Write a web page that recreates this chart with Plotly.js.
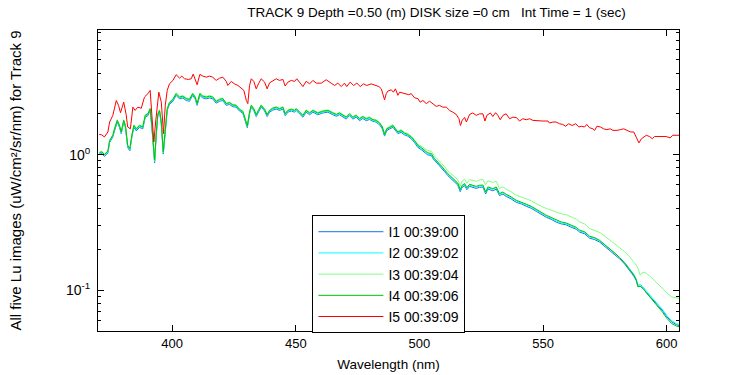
<!DOCTYPE html>
<html>
<head>
<meta charset="utf-8">
<script src="https://cdn.plot.ly/plotly-3.0.1.min.js"></script>
<style>html,body{margin:0;padding:0;background:#fff;}#chart{width:750px;height:375px;}</style>
</head>
<body>
<div id="chart"></div>
<script>
// Wavelength grid (nm) for I1..I4
const wlG = [370.5,371.5,372.6,374.0,374.7,376.0,376.7,377.8,378.7,379.4,
380.4,381.1,382.0,382.9,383.7,384.5,385.5,386.8,388.1,389.1,
390.2,391.1,391.8,392.9,393.5,394.2,394.9,395.6,396.4,397.2,
398.0,398.9,400.3,401.6,403.0,404.3,405.7,407.0,408.3,409.3,
410.1,411.2,412.4,413.8,415.1,416.4,417.8,419.2,420.5,421.9,
423.2,424.5,425.9,427.2,428.6,429.5,430.4,431.3,432.0,433.0,
434.0,434.9,436.0,437.4,438.4,439.4,440.7,442.1,443.4,444.8,
445.7,446.8,448.2,449.5,450.2,451.5,452.9,454.2,455.6,456.9,
458.9,460.9,463.0,465.0,466.4,467.7,469.0,470.4,471.7,473.1,
474.4,475.8,477.1,478.5,479.8,481.2,482.5,483.9,485.0,485.9,
486.8,487.9,489.3,490.3,491.3,492.6,494.0,495.3,496.7,498.0,
499.4,500.7,502.1,503.4,504.8,506.1,507.5,508.8,510.2,511.5,
512.9,514.2,515.5,516.5,517.3,518.3,519.2,520.3,521.6,523.0,
524.3,525.7,526.8,527.7,529.7,531.1,532.4,533.8,535.1,537.1,
539.2,541.2,543.2,545.2,547.3,549.3,551.3,553.3,555.4,557.4,
559.4,561.4,563.5,564.8,566.9,568.8,570.9,572.9,574.9,576.9,
579.0,581.0,583.0,585.0,586.7,587.7,588.4,589.3,590.4,591.8,
593.4,595.1,596.9,598.5,600.1,601.9,603.9,605.0];

const I1 = [1.00,1.02,0.97,1.03,1.23,1.35,1.50,1.74,1.59,1.43,
1.74,1.59,1.13,1.07,1.35,1.59,1.50,1.59,1.55,1.89,
1.94,2.12,1.59,0.87,1.35,1.94,2.06,1.69,1.01,1.59,
2.12,2.35,2.48,2.74,2.58,2.62,2.51,2.48,2.74,2.58,
2.31,2.74,2.62,2.58,2.62,2.58,2.40,2.48,2.51,2.31,
2.35,2.26,2.24,2.10,2.02,1.78,1.58,2.00,2.24,2.12,
1.91,2.06,2.24,2.10,1.91,2.06,2.13,2.17,2.12,2.17,
1.94,2.06,2.10,2.06,2.12,2.00,1.89,2.06,1.97,2.06,
1.97,2.03,2.06,1.97,1.92,1.97,1.89,1.83,1.94,1.83,
1.89,1.78,1.85,1.78,1.82,1.76,1.74,1.66,1.55,1.37,
1.50,1.55,1.59,1.50,1.43,1.46,1.40,1.37,1.31,1.23,
1.13,1.09,1.04,0.995,0.985,0.903,0.852,0.806,0.748,0.700,
0.661,0.633,0.597,0.533,0.574,0.590,0.551,0.583,0.574,0.563,
0.574,0.576,0.512,0.557,0.541,0.557,0.498,0.512,0.491,0.471,
0.444,0.433,0.416,0.402,0.381,0.360,0.345,0.333,0.317,0.308,
0.303,0.291,0.281,0.268,0.260,0.242,0.236,0.226,0.211,0.197,
0.183,0.170,0.156,0.140,0.127,0.118,0.106,0.107,0.103,0.0960,
0.0892,0.0818,0.0762,0.0700,0.0636,0.0585,0.0556,0.0548];

const I2 = [1.02,1.04,0.99,1.05,1.25,1.37,1.53,1.77,1.62,1.45,
1.77,1.62,1.15,1.09,1.37,1.62,1.53,1.62,1.58,1.92,
1.97,2.15,1.62,0.89,1.37,1.97,2.09,1.72,1.03,1.62,
2.15,2.39,2.52,2.78,2.62,2.66,2.55,2.52,2.78,2.62,
2.35,2.78,2.66,2.62,2.66,2.62,2.44,2.52,2.55,2.35,
2.39,2.30,2.28,2.13,2.05,1.81,1.61,2.03,2.28,2.15,
1.94,2.09,2.28,2.13,1.94,2.09,2.17,2.21,2.15,2.21,
1.97,2.09,2.13,2.09,2.15,2.03,1.92,2.09,2.00,2.09,
2.00,2.06,2.09,2.00,1.95,2.00,1.92,1.86,1.97,1.86,
1.92,1.81,1.88,1.81,1.85,1.78,1.76,1.68,1.58,1.39,
1.53,1.58,1.62,1.53,1.45,1.49,1.42,1.39,1.33,1.25,
1.15,1.11,1.06,1.01,1.00,0.919,0.868,0.822,0.762,0.713,
0.674,0.645,0.609,0.544,0.585,0.602,0.562,0.595,0.585,0.574,
0.585,0.587,0.522,0.568,0.553,0.568,0.508,0.522,0.501,0.481,
0.453,0.441,0.425,0.410,0.388,0.366,0.352,0.339,0.323,0.313,
0.308,0.297,0.286,0.273,0.265,0.247,0.241,0.231,0.216,0.202,
0.188,0.174,0.160,0.143,0.131,0.121,0.109,0.110,0.106,0.0985,
0.0913,0.0835,0.0775,0.0712,0.0648,0.0596,0.0566,0.0558];

const I3 = [1.04,1.06,1.01,1.07,1.28,1.40,1.57,1.81,1.66,1.48,
1.81,1.66,1.18,1.12,1.40,1.66,1.57,1.66,1.62,1.97,
2.02,2.20,1.66,0.92,1.40,2.02,2.14,1.76,1.06,1.66,
2.20,2.44,2.59,2.85,2.69,2.73,2.62,2.59,2.85,2.69,
2.40,2.85,2.73,2.69,2.73,2.69,2.49,2.59,2.62,2.40,
2.44,2.35,2.33,2.18,2.10,1.86,1.65,2.08,2.33,2.20,
1.99,2.14,2.33,2.18,1.99,2.14,2.22,2.26,2.20,2.26,
2.02,2.14,2.18,2.14,2.20,2.08,1.97,2.14,2.05,2.14,
2.05,2.11,2.14,2.05,2.00,2.05,1.97,1.91,2.02,1.91,
1.97,1.86,1.93,1.86,1.90,1.83,1.81,1.73,1.62,1.43,
1.57,1.62,1.66,1.57,1.48,1.53,1.46,1.43,1.37,1.29,
1.19,1.16,1.11,1.07,1.06,0.970,0.921,0.873,0.813,0.760,
0.722,0.694,0.655,0.585,0.639,0.660,0.617,0.655,0.647,0.635,
0.651,0.656,0.600,0.640,0.623,0.635,0.562,0.578,0.555,0.532,
0.501,0.488,0.472,0.456,0.433,0.415,0.401,0.389,0.374,0.366,
0.360,0.346,0.334,0.319,0.307,0.285,0.277,0.266,0.251,0.235,
0.220,0.207,0.192,0.176,0.162,0.153,0.145,0.129,0.136,0.133,
0.126,0.117,0.110,0.102,0.0955,0.0891,0.0875,0.0869];

const I4 = [1.03,1.05,1.00,1.06,1.27,1.39,1.55,1.79,1.64,1.47,
1.79,1.64,1.17,1.11,1.39,1.64,1.55,1.64,1.60,1.95,
2.00,2.18,1.64,0.91,1.39,2.00,2.12,1.74,1.05,1.64,
2.18,2.42,2.56,2.82,2.66,2.70,2.59,2.56,2.82,2.66,
2.38,2.82,2.70,2.66,2.70,2.66,2.47,2.56,2.59,2.38,
2.42,2.33,2.31,2.16,2.08,1.84,1.63,2.06,2.31,2.18,
1.97,2.12,2.31,2.16,1.97,2.12,2.20,2.24,2.18,2.24,
2.00,2.12,2.16,2.12,2.18,2.06,1.95,2.12,2.03,2.12,
2.03,2.09,2.12,2.03,1.98,2.03,1.95,1.89,2.00,1.89,
1.95,1.84,1.91,1.84,1.88,1.81,1.79,1.71,1.60,1.41,
1.55,1.60,1.64,1.55,1.47,1.51,1.44,1.41,1.35,1.27,
1.17,1.13,1.08,1.03,1.02,0.933,0.881,0.834,0.774,0.724,
0.684,0.655,0.618,0.552,0.594,0.611,0.571,0.604,0.594,0.583,
0.594,0.596,0.530,0.577,0.561,0.577,0.516,0.530,0.509,0.488,
0.460,0.448,0.431,0.416,0.394,0.372,0.357,0.344,0.328,0.318,
0.313,0.301,0.290,0.277,0.269,0.250,0.244,0.233,0.218,0.203,
0.188,0.174,0.159,0.142,0.129,0.119,0.106,0.107,0.103,0.0955,
0.0883,0.0805,0.0745,0.0681,0.0618,0.0569,0.0543,0.0537];

// Wavelength grid (nm) and values for I5
const wlR = [370.5,371.5,372.6,374.0,374.7,376.0,377.4,378.3,379.1,380.4,
381.4,382.0,383.1,384.1,385.0,386.1,387.5,388.8,390.2,391.1,
391.8,392.6,393.3,394.0,394.6,395.6,396.5,397.2,398.0,398.9,
400.3,401.6,403.0,403.9,405.0,406.6,407.7,408.5,409.3,410.1,
411.2,412.4,413.8,415.1,416.4,417.8,419.2,420.5,421.9,422.5,
423.9,425.2,426.6,427.9,429.0,430.0,430.6,431.3,432.0,433.0,
434.0,434.9,436.0,437.4,438.4,439.4,440.7,442.1,443.4,444.8,
445.7,446.8,448.2,449.5,450.4,451.5,452.9,454.2,455.6,456.9,
458.3,460.3,462.3,464.3,465.7,467.0,468.4,469.7,470.6,472.0,
473.4,474.7,476.1,477.4,478.7,480.5,482.3,483.6,484.6,485.2,
485.9,486.6,487.2,488.6,489.5,490.3,491.3,492.0,493.3,494.7,
495.7,496.7,498.0,499.4,500.3,501.4,502.8,504.1,505.4,506.8,
508.1,509.5,510.9,512.2,513.5,514.9,516.0,516.6,517.3,518.3,
519.0,520.3,521.6,523.0,524.3,525.7,526.5,527.3,528.7,529.7,
530.8,531.7,532.7,533.8,535.1,536.5,537.8,539.2,540.5,541.8,
543.2,544.6,545.9,547.9,549.9,552.0,552.6,554.0,555.3,556.7,
558.0,559.1,560.4,561.8,563.2,564.5,565.5,566.8,567.7,568.8,
570.2,570.9,571.8,573.2,574.5,575.8,577.2,578.3,579.9,581.3,
582.6,584.0,585.4,586.7,587.5,588.3,588.8,589.8,590.7,591.8,
593.1,594.2,595.1,597.1,599.8,601.4,602.5,605.0];

const I5 = [1.41,1.40,1.35,1.47,1.74,1.95,2.51,2.31,2.04,2.44,
1.97,1.60,1.55,2.24,2.12,2.24,2.20,2.66,2.82,2.98,
1.95,1.24,1.74,2.31,2.89,2.44,1.43,2.31,2.98,3.33,
3.53,3.89,3.67,3.80,3.63,3.59,3.63,3.93,3.63,3.28,
3.91,3.80,3.73,3.80,3.73,3.53,3.67,3.73,3.47,3.24,
3.47,3.33,3.24,3.09,2.98,2.51,2.38,3.24,3.63,3.47,
3.06,3.33,3.63,3.43,3.06,3.39,3.53,3.63,3.53,3.59,
3.21,3.43,3.53,3.47,3.63,3.43,3.18,3.48,3.33,3.53,
3.37,3.37,3.57,3.37,3.24,3.37,3.18,3.37,3.18,3.43,
3.24,3.37,3.18,3.33,3.24,3.33,3.24,3.18,3.06,2.82,
2.54,2.82,2.94,3.01,2.89,3.06,2.74,2.89,2.84,2.82,
2.77,2.82,2.63,2.59,2.44,2.51,2.38,2.48,2.38,2.27,
2.31,2.24,2.24,2.12,2.06,1.98,1.84,1.64,1.79,1.88,
1.74,1.98,2.03,1.95,2.00,2.00,1.77,1.95,2.03,1.91,
2.04,1.95,1.81,1.95,2.00,1.84,1.89,1.88,1.77,1.84,
1.81,1.84,1.79,1.77,1.77,1.77,1.71,1.74,1.74,1.69,
1.67,1.62,1.69,1.64,1.69,1.60,1.62,1.60,1.67,1.58,
1.55,1.51,1.62,1.60,1.55,1.53,1.55,1.51,1.51,1.53,
1.55,1.51,1.47,1.47,1.36,1.27,1.22,1.31,1.35,1.39,
1.36,1.31,1.36,1.36,1.36,1.33,1.39,1.39];

const seriesNames = ['I1 00:39:00','I2 00:39:02','I3 00:39:04','I4 00:39:06','I5 00:39:09'];
const seriesColors = ['#1a73e0','#00ffff','#80ff80','#00c000','#ff0000'];
const xTicks = [400,450,500,550,600];
const yTickVals = [0.1,1];
const yTickText = ['10<sup>-1</sup>','10<sup>0</sup>'];
const yMinorVals = [0.05,0.06,0.07,0.08,0.09,0.2,0.3,0.4,0.5,0.6,0.7,0.8,0.9,2,3,4,5,6,7,8];

const ys = [I1,I2,I3,I4,I5];
const xs = [wlG,wlG,wlG,wlG,wlR];
const traces = ys.map((y,i)=>({
  x: xs[i], y: y, type:'scatter', mode:'lines', name: seriesNames[i],
  line:{color: seriesColors[i], width:1}
}));

const fam = '"Liberation Sans", Arial, sans-serif';
const layout = {
  width:750, height:375,
  margin:{l:98, r:71, t:30, b:44},
  paper_bgcolor:'#fff', plot_bgcolor:'#fff',
  font:{family:fam, size:13, color:'#000'},
  showlegend:true,
  title:{text:'TRACK 9 Depth =0.50 (m) DISK size =0 cm   Int Time = 1 (sec)', x:0.582, xanchor:'center', xref:'container', y:0.968, yanchor:'middle', yref:'container', font:{family:fam, size:13.5, color:'#000'}},
  xaxis:{
    range:[370,605], tickmode:'array', tickvals:xTicks, ticks:'inside', ticklen:6, tickcolor:'#000',
    showline:true, linecolor:'#000', linewidth:1, mirror:'ticks', showgrid:false, zeroline:false,
    tickfont:{family:fam, size:13, color:'#000'},
    title:{text:'Wavelength (nm)', standoff:9, font:{family:fam, size:13.5, color:'#000'}},
    automargin:false
  },
  yaxis:{
    type:'log', range:[-1.302, 0.92], tickmode:'array', tickvals:yTickVals, ticktext:yTickText,
    ticks:'inside', ticklen:6, tickcolor:'#000', ticklabelstandoff:4,
    tickfont:{family:fam, size:14, color:'#000'},
    minor:{tickmode:'array', tickvals:yMinorVals, ticks:'inside', ticklen:3, tickcolor:'#000', showgrid:false},
    showline:true, linecolor:'#000', linewidth:1, mirror:'ticks', showgrid:false, zeroline:false,
    title:{text:'All five Lu images (uW/cm²/sr/nm) for Track 9', standoff:40, font:{family:fam, size:15, color:'#000'}},
    automargin:false
  },
  legend:{x:0.369, y:0.385, xanchor:'left', yanchor:'top', bgcolor:'#fff', bordercolor:'#000', borderwidth:1,
    itemwidth:65, font:{family:fam, size:14, color:'#000'}, tracegroupgap:0}
};
Plotly.newPlot('chart', traces, layout, {displayModeBar:false, staticPlot:true});
</script>
</body>
</html>
